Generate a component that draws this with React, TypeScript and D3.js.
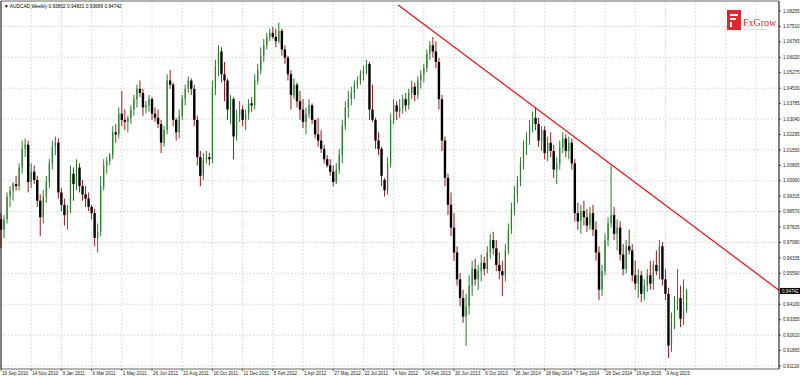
import React from "react";
import * as d3 from "d3";

// Weekly AUDCAD candles [open, high, low, close]
const ohlc: [number, number, number, number][] = [
  [0.982, 0.985, 0.968, 0.977], [0.977, 0.984, 0.973, 0.982], [0.982, 0.995, 0.980, 0.993], [0.993, 0.998, 0.988, 0.996],
  [0.996, 1.000, 0.991, 0.999], [0.999, 1.003, 0.996, 0.998], [0.998, 1.009, 0.996, 1.007], [1.007, 1.020, 1.004, 1.016],
  [1.016, 1.021, 1.012, 1.018], [1.018, 1.020, 0.995, 1.000], [1.000, 1.009, 0.997, 1.005], [1.005, 1.008, 0.999, 1.001],
  [1.001, 1.003, 0.988, 0.991], [0.991, 0.994, 0.974, 0.983], [0.983, 0.996, 0.980, 0.993], [0.993, 1.003, 0.990, 1.000],
  [1.000, 1.011, 0.997, 1.009], [1.009, 1.020, 1.006, 1.017], [1.017, 1.022, 1.013, 1.019], [1.019, 1.021, 0.992, 0.995],
  [0.995, 0.997, 0.986, 0.989], [0.989, 0.992, 0.979, 0.984], [0.984, 0.989, 0.977, 0.987], [0.987, 1.008, 0.985, 1.004],
  [1.004, 1.007, 0.991, 0.999], [0.999, 1.011, 0.996, 1.007], [1.007, 1.009, 0.995, 0.998], [0.998, 1.001, 0.991, 0.994],
  [0.994, 0.998, 0.988, 0.992], [0.992, 0.995, 0.986, 0.988], [0.988, 0.989, 0.982, 0.985], [0.985, 0.987, 0.969, 0.973],
  [0.973, 0.980, 0.966, 0.976], [0.976, 1.003, 0.974, 0.998], [0.998, 1.011, 0.996, 1.008], [1.008, 1.012, 1.004, 1.010],
  [1.010, 1.014, 1.008, 1.013], [1.013, 1.027, 1.011, 1.024], [1.024, 1.028, 1.019, 1.023], [1.023, 1.036, 1.021, 1.033],
  [1.033, 1.044, 1.027, 1.030], [1.030, 1.035, 1.025, 1.029], [1.029, 1.032, 1.024, 1.031], [1.031, 1.037, 1.028, 1.035],
  [1.035, 1.042, 1.032, 1.040], [1.040, 1.047, 1.036, 1.045], [1.045, 1.049, 1.041, 1.043], [1.043, 1.045, 1.032, 1.036],
  [1.036, 1.039, 1.033, 1.037], [1.037, 1.042, 1.034, 1.040], [1.040, 1.041, 1.030, 1.033], [1.033, 1.036, 1.029, 1.031],
  [1.031, 1.035, 1.026, 1.028], [1.028, 1.030, 1.014, 1.019], [1.019, 1.027, 1.017, 1.025], [1.025, 1.052, 1.023, 1.049],
  [1.049, 1.054, 1.045, 1.047], [1.047, 1.048, 1.027, 1.030], [1.030, 1.031, 1.020, 1.024], [1.024, 1.035, 1.021, 1.032],
  [1.032, 1.042, 1.030, 1.040], [1.040, 1.047, 1.037, 1.045], [1.045, 1.051, 1.043, 1.049], [1.049, 1.050, 1.042, 1.045],
  [1.045, 1.047, 1.027, 1.030], [1.030, 1.032, 1.008, 1.012], [1.012, 1.015, 0.998, 1.003], [1.003, 1.014, 1.001, 1.011],
  [1.011, 1.015, 1.009, 1.012], [1.012, 1.014, 1.008, 1.011], [1.011, 1.049, 1.009, 1.045], [1.045, 1.059, 1.042, 1.056],
  [1.056, 1.066, 1.051, 1.063], [1.063, 1.065, 1.048, 1.052], [1.052, 1.058, 1.039, 1.049], [1.049, 1.050, 1.030, 1.035],
  [1.035, 1.042, 1.028, 1.040], [1.040, 1.041, 1.011, 1.022], [1.022, 1.035, 1.020, 1.032], [1.032, 1.039, 1.029, 1.035],
  [1.035, 1.037, 1.027, 1.030], [1.030, 1.035, 1.025, 1.033], [1.033, 1.040, 1.030, 1.038], [1.038, 1.041, 1.034, 1.037],
  [1.037, 1.052, 1.035, 1.049], [1.049, 1.057, 1.047, 1.054], [1.054, 1.065, 1.052, 1.061], [1.061, 1.069, 1.058, 1.066],
  [1.066, 1.072, 1.064, 1.070], [1.070, 1.074, 1.068, 1.072], [1.072, 1.075, 1.069, 1.070], [1.070, 1.074, 1.065, 1.068],
  [1.068, 1.077, 1.067, 1.073], [1.073, 1.074, 1.061, 1.064], [1.064, 1.066, 1.057, 1.060], [1.060, 1.061, 1.049, 1.052],
  [1.052, 1.054, 1.035, 1.042], [1.042, 1.050, 1.040, 1.047], [1.047, 1.048, 1.036, 1.039], [1.039, 1.044, 1.030, 1.035],
  [1.035, 1.040, 1.026, 1.029], [1.029, 1.036, 1.023, 1.033], [1.033, 1.040, 1.031, 1.037], [1.037, 1.038, 1.028, 1.030],
  [1.030, 1.030, 1.021, 1.023], [1.023, 1.031, 1.017, 1.020], [1.020, 1.025, 1.014, 1.016], [1.016, 1.018, 1.009, 1.011],
  [1.011, 1.013, 1.007, 1.008], [1.008, 1.011, 1.003, 1.005], [1.005, 1.008, 0.998, 1.000], [1.000, 1.009, 0.999, 1.006],
  [1.006, 1.016, 1.004, 1.013], [1.013, 1.030, 1.009, 1.027], [1.027, 1.039, 1.025, 1.036], [1.036, 1.044, 1.031, 1.040],
  [1.040, 1.046, 1.037, 1.043], [1.043, 1.049, 1.040, 1.047], [1.047, 1.051, 1.045, 1.049], [1.049, 1.054, 1.047, 1.052],
  [1.052, 1.056, 1.049, 1.054], [1.054, 1.059, 1.052, 1.057], [1.057, 1.058, 1.030, 1.035], [1.035, 1.047, 1.029, 1.030],
  [1.030, 1.031, 1.016, 1.020], [1.020, 1.024, 1.013, 1.016], [1.016, 1.017, 0.998, 1.003], [1.001, 1.002, 0.993, 0.996],
  [0.996, 1.012, 0.994, 1.009], [1.009, 1.033, 1.007, 1.030], [1.030, 1.040, 1.028, 1.037], [1.037, 1.039, 1.030, 1.034],
  [1.034, 1.040, 1.031, 1.036], [1.036, 1.042, 1.033, 1.040], [1.040, 1.043, 1.034, 1.037], [1.037, 1.045, 1.035, 1.043],
  [1.043, 1.049, 1.040, 1.046], [1.046, 1.048, 1.039, 1.042], [1.042, 1.051, 1.040, 1.049], [1.049, 1.054, 1.045, 1.052],
  [1.052, 1.057, 1.048, 1.055], [1.055, 1.064, 1.053, 1.062], [1.062, 1.068, 1.059, 1.066], [1.066, 1.070, 1.060, 1.063],
  [1.063, 1.068, 1.055, 1.058], [1.058, 1.060, 1.035, 1.040], [1.040, 1.042, 1.015, 1.020], [1.020, 1.022, 0.998, 1.002],
  [1.002, 1.004, 0.984, 0.989], [0.989, 0.995, 0.974, 0.978], [0.978, 0.985, 0.962, 0.966], [0.966, 0.969, 0.950, 0.953],
  [0.953, 0.956, 0.940, 0.944], [0.944, 0.948, 0.932, 0.935], [0.935, 0.946, 0.921, 0.940], [0.940, 0.955, 0.936, 0.950],
  [0.950, 0.962, 0.945, 0.958], [0.958, 0.963, 0.950, 0.953], [0.953, 0.960, 0.948, 0.957], [0.957, 0.965, 0.952, 0.961],
  [0.961, 0.964, 0.955, 0.958], [0.958, 0.969, 0.956, 0.966], [0.966, 0.975, 0.963, 0.972], [0.972, 0.976, 0.965, 0.968],
  [0.968, 0.972, 0.957, 0.960], [0.960, 0.966, 0.953, 0.957], [0.957, 0.962, 0.945, 0.955], [0.955, 0.970, 0.952, 0.967],
  [0.967, 0.980, 0.965, 0.977], [0.977, 0.990, 0.975, 0.987], [0.987, 0.998, 0.984, 0.994], [0.994, 1.003, 0.990, 1.000],
  [1.000, 1.012, 0.998, 1.009], [1.009, 1.020, 1.006, 1.017], [1.017, 1.024, 1.013, 1.021], [1.021, 1.030, 1.018, 1.027],
  [1.027, 1.034, 1.024, 1.031], [1.031, 1.036, 1.025, 1.028], [1.028, 1.031, 1.017, 1.020], [1.020, 1.027, 1.015, 1.025],
  [1.025, 1.027, 1.011, 1.014], [1.014, 1.022, 1.010, 1.019], [1.019, 1.024, 1.012, 1.015], [1.015, 1.018, 1.002, 1.006],
  [1.006, 1.012, 0.999, 1.009], [1.009, 1.020, 1.006, 1.017], [1.017, 1.024, 1.014, 1.021], [1.021, 1.023, 1.012, 1.015],
  [1.015, 1.022, 1.011, 1.019], [1.019, 1.021, 1.006, 1.009], [1.009, 1.011, 0.981, 0.985], [0.985, 0.990, 0.977, 0.981],
  [0.981, 0.989, 0.975, 0.986], [0.986, 0.991, 0.979, 0.983], [0.983, 0.987, 0.976, 0.979], [0.979, 0.988, 0.977, 0.985],
  [0.985, 0.989, 0.974, 0.977], [0.977, 0.981, 0.962, 0.966], [0.966, 0.969, 0.943, 0.948], [0.948, 0.960, 0.945, 0.957],
  [0.957, 0.975, 0.955, 0.972], [0.972, 0.983, 0.969, 0.980], [0.980, 1.008, 0.978, 0.984], [0.984, 0.988, 0.972, 0.975],
  [0.975, 0.982, 0.967, 0.978], [0.978, 0.981, 0.962, 0.965], [0.965, 0.970, 0.955, 0.958], [0.958, 0.972, 0.956, 0.969],
  [0.969, 0.977, 0.965, 0.967], [0.967, 0.970, 0.952, 0.955], [0.955, 0.962, 0.948, 0.951], [0.951, 0.958, 0.944, 0.955],
  [0.955, 0.957, 0.942, 0.946], [0.946, 0.953, 0.943, 0.950], [0.950, 0.958, 0.947, 0.955], [0.955, 0.962, 0.948, 0.951],
  [0.951, 0.962, 0.948, 0.960], [0.960, 0.967, 0.955, 0.957], [0.957, 0.972, 0.953, 0.969], [0.969, 0.971, 0.950, 0.953],
  [0.953, 0.958, 0.943, 0.946], [0.946, 0.949, 0.915, 0.921], [0.921, 0.937, 0.918, 0.932], [0.932, 0.945, 0.929, 0.941],
  [0.941, 0.958, 0.938, 0.944], [0.944, 0.950, 0.930, 0.934], [0.934, 0.953, 0.931, 0.938], [0.93802, 0.94831, 0.93689, 0.94742],
];

// Date labels along the time axis: [bar index, text]
const dateTicks: [number, string][] = [
  [0, "19 Sep 2010"], [10, "14 Nov 2010"], [20, "9 Jan 2011"], [30, "6 Mar 2011"], [40, "1 May 2011"],
  [50, "26 Jun 2011"], [60, "21 Aug 2011"], [70, "16 Oct 2011"], [80, "11 Dec 2011"], [90, "5 Feb 2012"],
  [100, "1 Apr 2012"], [110, "27 May 2012"], [120, "22 Jul 2012"], [130, "4 Nov 2012"], [140, "24 Feb 2013"],
  [150, "30 Jun 2013"], [160, "6 Oct 2013"], [170, "26 Jan 2014"], [180, "18 May 2014"], [190, "7 Sep 2014"],
  [200, "28 Dec 2014"], [210, "19 Apr 2015"], [220, "9 Aug 2015"],
];
const extraGridIdx = [230, 240, 250];

// Price scale labels
const priceBase = 0.9112;
const priceStep = 0.00745;
const priceCount = 24;
const priceTicks = d3.range(priceCount).map((i) => +(priceBase + i * priceStep).toFixed(5));

// Descending trend line: [bar index, price]
const trendLine: [number, number][] = [
  [131.5, 1.0854],
  [257.6, 0.9478],
];

const symbol = "AUDCAD,Weekly";
const lastBar = ohlc[ohlc.length - 1];

export default function App() {
  const W = 800;
  const H = 376;
  const plotL = 1;
  const plotR = 779;
  const plotT = 1;
  const plotB = 369;

  const x = d3.scaleLinear().domain([0, 257.6]).range([plotL, plotR]);
  const y = d3.scaleLinear().domain([priceTicks[0], priceTicks[priceCount - 1]]).range([366, 11]);

  const gridColor = "#c8c8c8";
  const font = "'Liberation Sans', Arial, sans-serif";
  const lastY = y(lastBar[3]);

  const trend = d3.line<[number, number]>().x((d) => x(d[0])).y((d) => y(d[1]));

  return (
    <svg width={W} height={H} style={{ position: "absolute", left: 0, top: 0, background: "#fff" }}>
      <rect x={0} y={0} width={W} height={H} fill="#fff" />
      {/* horizontal grid */}
      {priceTicks.map((p, i) =>
        i % 2 === 0 ? (
          <line key={"hg" + i} x1={plotL} x2={plotR} y1={y(p)} y2={y(p)} stroke={gridColor} strokeWidth={0.8} strokeDasharray="1.5,2" />
        ) : null
      )}
      {/* vertical grid */}
      {[...dateTicks.map((d) => d[0]), ...extraGridIdx].map((idx, i) =>
        idx === 0 ? null : (
          <line key={"vg" + i} x1={x(idx)} x2={x(idx)} y1={plotT} y2={plotB} stroke={gridColor} strokeWidth={0.8} strokeDasharray="1.5,2" />
        )
      )}
      {/* candles */}
      {ohlc.map(([o, h, l, c], i) => {
        const cx = x(i);
        const up = c >= o;
        const col = up ? "#2a7d2a" : "#a01818";
        const top = y(Math.max(o, c));
        const bot = y(Math.min(o, c));
        return (
          <g key={"c" + i}>
            <line x1={cx} x2={cx} y1={y(h)} y2={y(l)} stroke={col} strokeWidth={1} />
            {up ? (
              <rect x={cx - 0.6} y={top} width={1.2} height={Math.max(bot - top, 0.8)} fill={col} />
            ) : (
              <rect x={cx - 1.2} y={top} width={2.4} height={Math.max(bot - top, 0.8)} fill="#000" />
            )}
          </g>
        );
      })}
      {/* trend line */}
      <path d={trend(trendLine) || ""} stroke="#e01010" strokeWidth={1.2} fill="none" />
      {/* frame */}
      <line x1={plotL} x2={plotL} y1={plotT} y2={plotB} stroke="#000" strokeWidth={1} />
      <line x1={plotR} x2={plotR} y1={plotT} y2={plotB} stroke="#000" strokeWidth={1} />
      <line x1={plotL} x2={plotR} y1={plotT} y2={plotT} stroke="#000" strokeWidth={0.6} />
      <line x1={plotL} x2={plotR} y1={plotB} y2={plotB} stroke="#000" strokeWidth={0.6} />
      {/* price labels (hidden where the current price box sits) */}
      {priceTicks.map((p, i) =>
        Math.abs(y(p) - lastY) < 7 ? null : (
          <g key={"pt" + i}>
            <line x1={plotR} x2={plotR + 2} y1={y(p)} y2={y(p)} stroke="#000" strokeWidth={0.6} />
            <text x={plotR + 4} y={y(p) + 1.6} fontSize={4.6} fontFamily={font} fill="#222">
              {p.toFixed(5)}
            </text>
          </g>
        )
      )}
      {/* current price box */}
      <rect x={plotR + 1} y={lastY - 3} width={20} height={6} fill="#000" />
      <text x={plotR + 3} y={lastY + 1.7} fontSize={4.6} fontFamily={font} fill="#fff">
        {lastBar[3].toFixed(5)}
      </text>
      {/* date labels */}
      {dateTicks.map(([idx, label], i) => (
        <g key={"dt" + i}>
          <line x1={x(idx)} x2={x(idx)} y1={plotB} y2={plotB + 2} stroke="#000" strokeWidth={0.6} />
          <text x={x(idx) + 1} y={375} fontSize={4.6} fontFamily={font} fill="#222">
            {label}
          </text>
        </g>
      ))}
      {/* title */}
      <text x={4} y={8} fontSize={4.8} fontFamily={font} fill="#000">
        {"\u25BC " + symbol + "  " + lastBar.map((v) => v.toFixed(5)).join(" ")}
      </text>
      {/* logo */}
      <g>
        <rect x={727} y={10} width={14} height={20} fill="#e3262b" />
        <rect x={730} y={14} width={8} height={2} fill="#fff" />
        <rect x={730} y={18} width={6} height={2} fill="#fff" />
        <rect x={730} y={22} width={2} height={5} fill="#fff" />
        <text x={743} y={26} fontSize={10} fontFamily="'Liberation Serif', serif" fill="#d4262b">
          FxGrow
        </text>
        <text x={743} y={30} fontSize={2.5} fontFamily={font} fill="#b0b0b0">
          capital markets broker
        </text>
      </g>
    </svg>
  );
}
